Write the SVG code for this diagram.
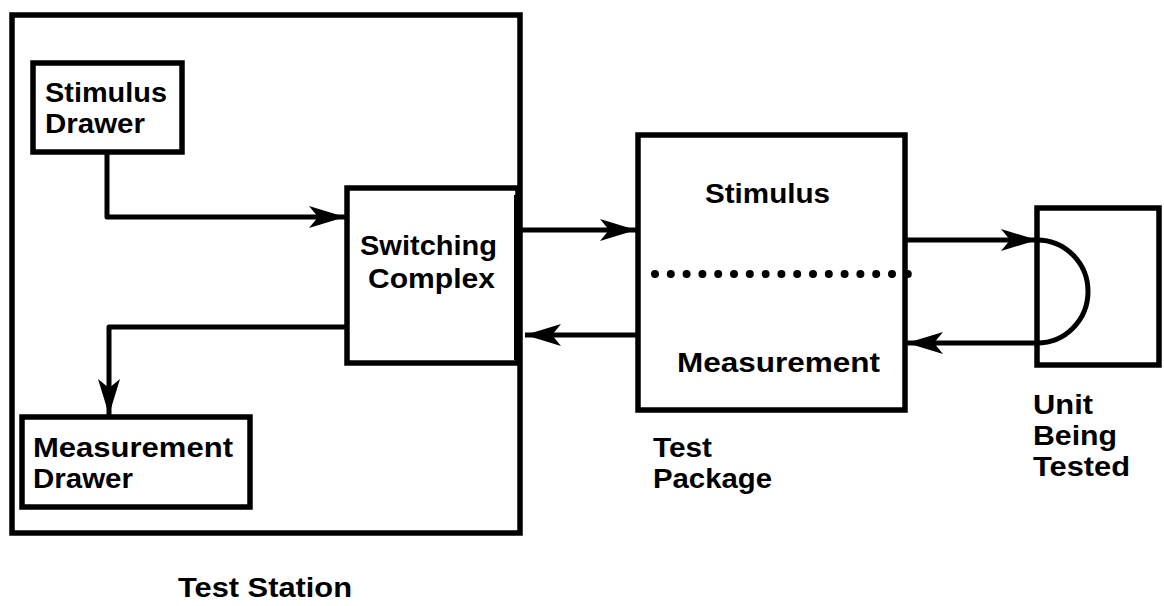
<svg xmlns="http://www.w3.org/2000/svg" width="1164" height="606" viewBox="0 0 1164 606">
<style>
.box{fill:none;stroke:#000;stroke-width:5.5}
.conn{fill:none;stroke:#000;stroke-width:5;stroke-linejoin:round}
text{font-family:"Liberation Sans",Arial,sans-serif;font-weight:700;fill:#000}
.t30{font-size:27px}
.t28{font-size:28px}
</style>
<defs>
<marker id="arr" markerUnits="userSpaceOnUse" markerWidth="40" markerHeight="30" viewBox="-38 -14 40 28" refX="0" refY="0" orient="auto">
<path d="M0,0 L-36,-11 L-27,0 L-36,11 Z" fill="#000"/>
</marker>
</defs>
<rect width="1164" height="606" fill="#fff"/>
<g id="test-station">
<rect class="box" x="12" y="15" width="508" height="518" stroke-width="6"/>
<text class="t28" x="178" y="597" textLength="174" lengthAdjust="spacingAndGlyphs">Test Station</text>
</g>
<g id="stimulus-drawer">
<rect class="box" x="33" y="63" width="149" height="89"/>
<text class="t30" x="45" y="102" textLength="122" lengthAdjust="spacingAndGlyphs">Stimulus</text>
<text class="t30" x="45" y="133" textLength="100" lengthAdjust="spacingAndGlyphs">Drawer</text>
</g>
<g id="measurement-drawer">
<rect class="box" x="22" y="417" width="228" height="90"/>
<text class="t30" x="33" y="457" textLength="200" lengthAdjust="spacingAndGlyphs">Measurement</text>
<text class="t30" x="33" y="488" textLength="100" lengthAdjust="spacingAndGlyphs">Drawer</text>
</g>
<g id="switching-complex">
<rect class="box" x="347" y="188" width="171" height="175"/>
<line x1="518" y1="195" x2="518" y2="360" stroke="#000" stroke-width="8"/>
<text class="t30" x="360" y="255" textLength="137" lengthAdjust="spacingAndGlyphs">Switching</text>
<text class="t30" x="368" y="288" textLength="127" lengthAdjust="spacingAndGlyphs">Complex</text>
</g>
<g id="test-package">
<rect class="box" x="638" y="135" width="267" height="275"/>
<line x1="655" y1="274" x2="910" y2="274" stroke="#000" stroke-width="8" stroke-linecap="round" stroke-dasharray="0 15.8"/>
<text class="t28" x="705" y="203" textLength="125" lengthAdjust="spacingAndGlyphs">Stimulus</text>
<text class="t28" x="677" y="372" textLength="203" lengthAdjust="spacingAndGlyphs">Measurement</text>
<text class="t30" x="653" y="457" textLength="59" lengthAdjust="spacingAndGlyphs">Test</text>
<text class="t30" x="653" y="488" textLength="119" lengthAdjust="spacingAndGlyphs">Package</text>
</g>
<g id="unit-being-tested">
<rect class="box" x="1037" y="208" width="122" height="157"/>
<path class="conn" d="M1037,240 A51,51.5 0 0 1 1037,343"/>
<text class="t30" x="1033" y="414" textLength="60" lengthAdjust="spacingAndGlyphs">Unit</text>
<text class="t30" x="1033" y="445" textLength="84" lengthAdjust="spacingAndGlyphs">Being</text>
<text class="t30" x="1033" y="476" textLength="97" lengthAdjust="spacingAndGlyphs">Tested</text>
</g>
<g id="connectors">
<path class="conn" d="M107,152 V217 H345" marker-end="url(#arr)"/>
<path class="conn" d="M347,327 H109 V415" marker-end="url(#arr)"/>
<path class="conn" d="M522,230 H636" marker-end="url(#arr)"/>
<path class="conn" d="M638,335 H525" marker-end="url(#arr)"/>
<path class="conn" d="M905,240 H1037" marker-end="url(#arr)"/>
<path class="conn" d="M1037,343 H907" marker-end="url(#arr)"/>
</g>
</svg>
